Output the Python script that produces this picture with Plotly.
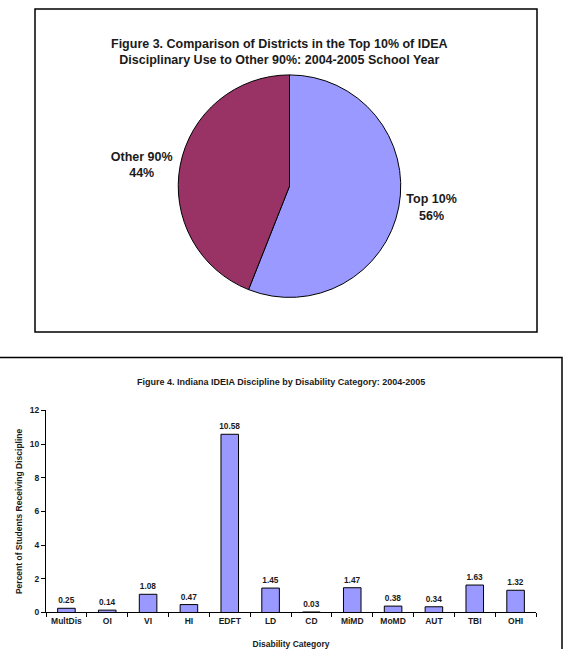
import plotly.graph_objects as go

W, H = 564, 649

# Pie data
pie_labels = ["Top 10%", "Other 90%"]
pie_values = [56, 44]
pie_colors = ["#9999FF", "#993366"]

# Bar data
categories = ["MultDis", "OI", "VI", "HI", "EDFT", "LD", "CD", "MiMD", "MoMD", "AUT", "TBI", "OHI"]
values = [0.25, 0.14, 1.08, 0.47, 10.58, 1.45, 0.03, 1.47, 0.38, 0.34, 1.63, 1.32]
value_text = ["0.25", "0.14", "1.08", "0.47", "10.58", "1.45", "0.03", "1.47", "0.38", "0.34", "1.63", "1.32"]
y_ticks = [0, 2, 4, 6, 8, 10, 12]

FONT = "Liberation Sans, Arial, sans-serif"
TXT = "#1a1a1a"

def px(x):
    return x / W

def py(y):
    return 1 - y / H

fig = go.Figure()

fig.add_trace(go.Pie(
    labels=pie_labels,
    values=pie_values,
    sort=False,
    direction="clockwise",
    rotation=0,
    marker=dict(colors=pie_colors, line=dict(color="black", width=1)),
    textposition="outside",
    texttemplate="%{label}<br>%{percent:.0%}",
    textfont=dict(family=FONT, size=12.5, color=TXT, weight="bold"),
    domain=dict(x=[px(176.5), px(402.5)], y=[py(297), py(71)]),
    showlegend=False,
    hoverinfo="label+percent",
))

fig.add_trace(go.Bar(
    x=categories,
    y=values,
    text=value_text,
    textposition="outside",
    constraintext="none",
    cliponaxis=False,
    textfont=dict(family=FONT, size=8.3, color=TXT, weight="bold"),
    marker=dict(color="#9999FF", line=dict(color="black", width=1)),
    width=0.43,
    xaxis="x",
    yaxis="y",
    showlegend=False,
))

fig.update_layout(
    width=W, height=H,
    margin=dict(l=0, r=0, t=0, b=0),
    paper_bgcolor="white",
    plot_bgcolor="white",
    font=dict(family=FONT, color=TXT),
    xaxis=dict(
        domain=[px(46), px(536)],
        anchor="y",
        showline=True, linecolor="black", linewidth=1,
        ticks="outside", tickson="boundaries", ticklen=4, tickcolor="black",
        tickfont=dict(family=FONT, size=8.5, weight="bold", color=TXT),
        title=dict(text="Disability Category", standoff=17,
                   font=dict(family=FONT, size=8.5, weight="bold", color=TXT)),
        showgrid=False,
    ),
    yaxis=dict(
        domain=[py(617), py(411.7)],
        anchor="x",
        range=[0, 12],
        tickvals=y_ticks,
        showline=True, linecolor="black", linewidth=1,
        ticks="outside", ticklen=4, tickcolor="black",
        tickfont=dict(family=FONT, size=8.5, weight="bold", color=TXT),
        title=dict(text="Percent of Students Receiving Discipline", standoff=5,
                   font=dict(family=FONT, size=8.5, weight="bold", color=TXT)),
        showgrid=False, zeroline=False,
    ),
    shapes=[
        dict(type="rect", xref="paper", yref="paper",
             x0=px(35), x1=px(537), y0=py(332), y1=py(4),
             line=dict(color="black", width=1.5)),
        dict(type="rect", xref="paper", yref="paper",
             x0=px(-5), x1=px(562), y0=py(660), y1=py(358),
             line=dict(color="black", width=1.5)),
    ],
    annotations=[
        dict(text="Figure 3. Comparison of Districts in the Top 10% of IDEA<br>Disciplinary Use to Other 90%: 2004-2005 School Year",
             xref="paper", yref="paper", x=px(279), y=py(47.5),
             xanchor="center", yanchor="middle", showarrow=False,
             font=dict(family=FONT, size=12.5, weight="bold", color=TXT)),
        dict(text="Figure 4. Indiana IDEIA Discipline by Disability Category: 2004-2005",
             xref="paper", yref="paper", x=px(281), y=py(383),
             xanchor="center", yanchor="middle", showarrow=False,
             font=dict(family=FONT, size=9, weight="bold", color=TXT)),
    ],
)

fig.write_html("out.html")
